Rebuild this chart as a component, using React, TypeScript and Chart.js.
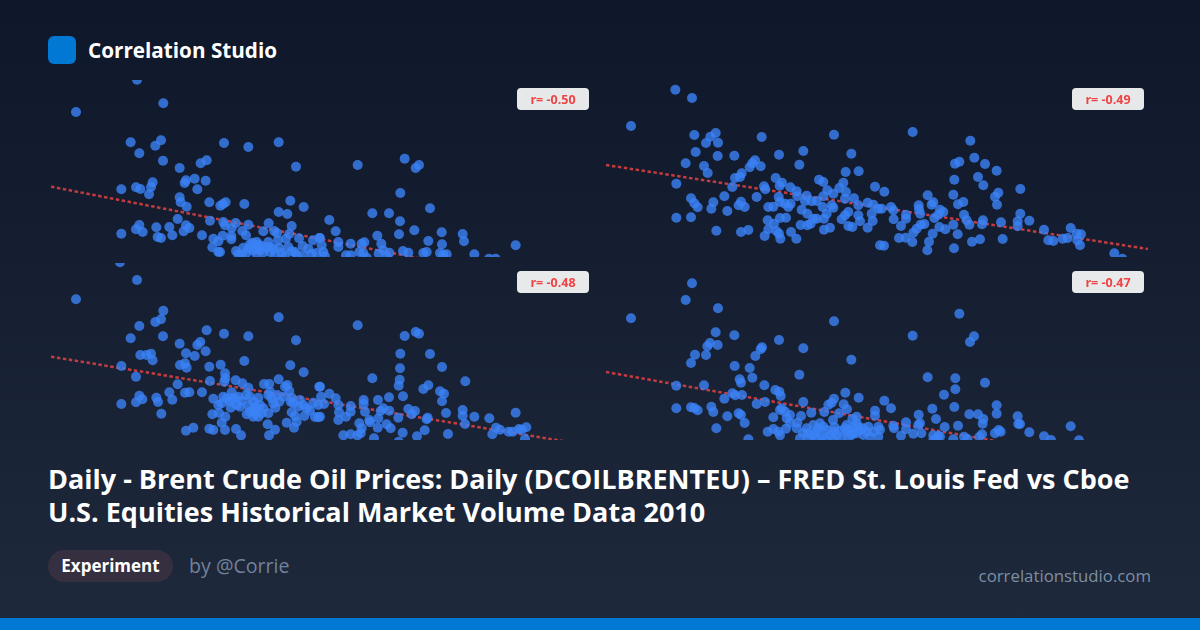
import React, { useEffect, useRef } from 'react';
import { Chart, registerables } from 'chart.js';

Chart.register(...registerables);

// values, no axis is shown so the units are arbitrary
const seriesA: number[][] = [
  [291,532],[370,461],[108,435],[272,344],[363,350],[346,334],[298,311],[552,342],[625,330],[716,344],[369,289],[500,290],[482,281],[419,267],[768,271],[438,230],[464,235],[434,222],[497,229],[338,224],[333,210],[288,209],[301,204],[244,203],[327,188],[472,203],[419,179],[422,164],[508,164],[557,164],[549,159],[541,154],[613,159],[751,169],[440,151],[791,150],[716,135],[742,129],[413,114],[510,109],[550,105],[587,102],[625,97],[686,101],[298,96],[288,83],[308,75],[349,89],[388,90],[438,95],[448,87],[431,77],[244,70],[397,65],[486,65],[353,60],[363,57],[555,95],[575,87],[755,93],[607,78],[618,65],[670,77],[703,78],[711,72],[548,64],[574,63],[574,53],[520,55],[535,47],[517,29],[540,15],[588,18],[714,50],[738,55],[748,70],[777,56],[819,50],[838,57],[788,33],[685,45],[718,27],[637,43],[655,37],[625,25],[640,20],[605,7],[690,15],[755,17],[790,5],[830,12],[705,5],[680,30],[660,20],[535,15],
  [620,12],[650,8],[670,14],[700,25],[725,12],[745,30],[765,15],[805,25],[815,10],[630,38],[650,25],[665,33],[690,30],[610,28],[595,8],[770,5],[735,3],[650,45],
  [953,276],[1094,295],[1137,276],[1127,267],[1081,192],[1170,146],[868,111],[997,131],[1047,131],[1080,107],[887,77],[1123,80],[1205,74],[1012,64],[1077,68],[1268,69],[840,57],[1165,48],[1272,47],[1427,35],[895,45],[932,40],[973,44],[965,40],[1024,40],[1206,38],[895,30],[845,35],[1030,20],[1048,13],[1089,18],[1105,13],[1160,15],[1150,12],[1200,12],[1210,7],[1220,8],[1303,8],[1347,-5],[1367,-5],[918,5],[932,5],[958,15],[970,12],[1016,10],[850,15],[855,2],[980,-2],[1040,0],
];
const seriesB: number[][] = [
  [226,502],[276,477],[93,393],[283,366],[347,372],[331,361],[318,342],[354,343],[485,360],[702,367],[287,315],[353,303],[403,304],[537,307],[610,318],[754,310],[257,281],[465,290],[457,281],[449,269],[482,272],[598,277],[312,273],[323,252],[425,251],[737,255],[776,257],[229,220],[405,237],[420,240],[397,210],[527,237],[546,223],[539,214],[492,212],[496,203],[571,209],[590,197],[657,232],[670,225],[730,223],[825,211],[718,207],[738,195],[682,200],[670,182],[700,190],[470,180],[373,182],[273,176],[283,161],[293,149],[340,164],[334,145],[382,138],[423,166],[416,155],[434,150],[536,180],[540,165],[505,150],[520,151],[555,160],[572,160],[565,150],[592,182],[620,184],[615,168],[635,167],[650,168],[735,175],[762,176],[775,155],[803,163],[820,157],[835,145],[695,155],[668,150],[605,142],[622,130],[700,148],[680,130],[745,135],[735,125],[775,125],[815,130],[650,115],[640,115],[672,115],[725,113],[780,107],[818,108],[503,110],[522,100],[540,117],[558,118],[505,83],[530,77],[537,70],[494,63],[541,55],[573,75],[589,55],[602,96],[622,95],[632,100],[672,82],[690,88],[745,93],[757,90],[803,88],[229,118],[273,119],[349,79],[423,75],[445,81],[840,35],
  [938,375],[1111,349],[1123,298],[1078,286],[1065,280],[1155,279],[1190,259],[1134,240],[1063,232],[1150,215],[853,196],[983,185],[1060,187],[1261,204],[1195,193],[1185,181],[1191,157],[1090,165],[1074,158],[1000,164],[995,157],[956,155],[957,143],[961,130],[873,150],[880,140],[881,113],[918,127],[918,115],[903,93],[845,145],[1020,142],[1030,135],[1015,127],[1003,117],[1092,127],[1100,110],[1108,97],[1060,97],[1149,110],[1146,98],[1203,104],[1261,130],[1288,109],[1253,107],[1253,92],[1332,82],[1412,87],[973,99],[962,97],[950,85],[940,73],[1018,90],[1036,83],[998,70],[1073,68],[897,57],[917,58],[937,45],[987,46],[982,20],[1062,26],[1116,46],[1140,53],[1208,54],[852,34],[1345,50],[1360,48],[1388,55],[1403,57],[1430,70],[1443,68],[1440,35],[1432,50],[1543,11],[1567,-5],
];
const seriesC: number[][] = [
  [240,533],[291,480],[108,422],[370,388],[363,362],[346,354],[298,342],[272,305],[552,319],[500,329],[625,311],[716,368],[768,299],[369,311],[419,289],[481,294],[472,285],[438,260],[464,252],[497,266],[301,255],[333,259],[320,255],[338,239],[613,237],[542,226],[508,220],[751,224],[420,225],[435,230],[440,217],[244,222],[288,190],[791,203],[555,200],[556,185],[553,175],[510,177],[413,167],[587,179],[607,170],[625,157],[672,168],[688,168],[716,182],[742,165],[735,160],[748,147],[838,160],[388,143],[435,142],[448,143],[486,143],[298,133],[307,122],[349,127],[354,114],[288,113],[244,108],[397,121],[520,124],[550,130],[575,143],[575,125],[572,97],[590,105],[605,117],[618,135],[640,115],[655,127],[685,135],[690,145],[712,135],[718,115],[706,97],[755,127],[780,120],[790,105],[820,112],[835,105],[752,115],[625,103],[650,95],[640,70],[620,77],[665,80],[685,80],[755,83],[765,72],[793,72],[825,69],[835,68],[535,105],[537,81],[517,77],[556,70],[364,79],[545,52],[555,30],[520,30],[508,34],[460,37],[438,28],[588,33],[603,14],[687,14],[705,31],[683,47],[740,52],[762,37],[770,55],
  [600,100],[630,130],[645,100],[660,105],[670,95],[630,85],[645,80],[655,70],[640,85],[700,110],[695,125],[730,130],[760,110],[775,100],[800,95],[810,88],[560,125],[570,115],[585,125],[595,130],[545,110],
  [953,344],[1094,312],[1127,324],[1137,319],[1081,259],[1170,258],[1080,215],[1206,219],[997,185],[1079,181],[1076,163],[1276,176],[1165,164],[1150,153],[1200,146],[1212,139],[1206,116],[1089,131],[1047,128],[1014,120],[971,120],[971,108],[868,139],[887,125],[840,160],[843,130],[852,108],[895,105],[932,102],[932,85],[975,85],[897,83],[918,70],[895,60],[840,70],[988,60],[1030,95],[1022,87],[1048,88],[1105,93],[1125,87],[1115,77],[1075,67],[1163,67],[1160,62],[1268,90],[1268,73],[1218,81],[1303,70],[1348,65],[1427,82],[1275,48],[1015,65],[990,53],[958,50],[965,35],[1040,47],[1052,35],[1013,37],[1088,22],[1131,11],[1154,29],[1224,18],[910,14],[932,17],[952,14],[962,20],[1002,5],[1076,-5],[1368,37],[1380,31],[1357,17],[1406,25],[1418,25],[1445,31],[1459,38],[1437,33],[1455,3],
];
const seriesD: number[][] = [
  [276,470],[93,365],[257,420],[354,395],[702,356],[347,323],[403,314],[537,300],[610,275],[330,291],[322,281],[353,285],[486,278],[482,272],[466,252],[285,256],[318,255],[273,231],[754,241],[404,222],[449,216],[457,187],[598,196],[419,182],[423,172],[493,164],[229,163],[312,164],[526,150],[538,145],[542,132],[397,140],[406,134],[426,135],[373,124],[736,142],[776,127],[702,124],[695,112],[685,106],[731,107],[610,114],[495,114],[470,108],[229,95],[273,98],[283,96],[293,89],[334,100],[340,84],[416,80],[423,75],[382,71],[434,51],[349,35],[545,95],[540,90],[555,85],[520,68],[570,75],[560,65],[603,72],[634,82],[673,84],[717,80],[741,92],[825,88],[825,73],[770,70],[757,63],[699,60],[592,52],[570,52],[503,25],[520,33],[535,25],[558,34],[540,14],[445,2],[590,35],[620,35],[640,45],[660,50],[670,40],[703,39],[735,35],[760,40],[775,40],[805,40],[835,40],[640,15],[690,15],[600,5],[745,10],[770,20],[810,10],[665,10],[725,2],[835,10],
  [625,20],[650,25],[655,35],[680,30],[700,25],[720,28],[740,25],[750,30],[760,20],[780,30],[790,15],[755,15],[675,5],[700,5],[650,5],[625,5],[610,20],[710,15],[790,35],[800,25],[820,25],[740,45],[770,50],
  [1078,379],[938,313],[1122,311],[1110,294],[983,188],[1066,185],[1155,172],[1066,152],[1032,136],[853,118],[873,95],[1190,104],[1063,99],[997,94],[956,76],[1008,63],[1108,77],[1134,77],[1190,79],[1253,71],[1150,63],[1148,49],[1074,43],[918,53],[960,50],[955,45],[880,43],[882,35],[918,32],[840,31],[1255,48],[1260,48],[1412,41],[1034,39],[1196,30],[1202,25],[1185,20],[1288,23],[1146,17],[1138,9],[964,20],[940,19],[903,13],[1000,14],[1015,13],[1060,2],[1092,10],[1102,3],[1332,11],[1353,0],[1437,-1],[1000,0],[1010,5],[1020,10],
];

const trendA = [211, -105];
const trendB = [276, 24];
const trendC = [250, -18];
const trendD = [204, -84];

const labelA = 'r= -0.50';
const labelB = 'r= -0.49';
const labelC = 'r= -0.48';
const labelD = 'r= -0.47';

const FONT = '"Open Sans", sans-serif';

function Panel(props: { left: number; top: number; points: number[][]; trend: number[]; xMin: number; label: string }) {
  const canvas = useRef<HTMLCanvasElement>(null);
  const { left, top, points, trend, xMin, label } = props;

  useEffect(() => {
    const chart = new Chart(canvas.current!, {
      type: 'scatter',
      data: {
        datasets: [
          {
            data: points.map(p => ({ x: p[0], y: p[1] })),
            backgroundColor: 'rgba(59, 130, 246, 0.8)',
            borderWidth: 0,
            pointRadius: 5,
          },
          {
            data: [{ x: xMin, y: trend[0] }, { x: xMin + 1626, y: trend[1] }],
            showLine: true,
            borderColor: 'rgba(239, 68, 68, 0.8)',
            borderWidth: 2.5,
            borderDash: [3.5, 2.5],
            pointRadius: 0,
          },
        ],
      },
      options: {
        responsive: false,
        animation: false,
        layout: { padding: 0, autoPadding: false },
        plugins: { legend: { display: false }, tooltip: { enabled: false } },
        scales: {
          x: { type: 'linear', display: false, min: xMin, max: xMin + 1632 },
          y: { type: 'linear', display: false, min: 0, max: 531 },
        },
      },
    });
    return () => {
      chart.destroy();
    };
  }, []);

  return (
    <>
      <canvas ref={canvas} width={544} height={177} style={{ position: 'absolute', left, top, width: 544, height: 177 }}></canvas>
      <div style={{
        position: 'absolute', left: left + 466, top: top + 8, width: 72, height: 22, borderRadius: 4,
        background: 'rgba(255, 255, 255, 0.9)', color: '#ef4444', font: `700 12.5px ${FONT}`,
        display: 'flex', alignItems: 'center', justifyContent: 'center',
      }}>{label}</div>
    </>
  );
}

export default function App() {
  useEffect(() => {
    document.body.style.margin = '0';
  }, []);

  return (
    <div style={{
      position: 'fixed', left: 0, top: 0, width: 1200, height: 630, overflow: 'hidden',
      background: 'linear-gradient(180deg, #0f172a 0%, #1e293b 100%)', fontFamily: FONT,
    }}>
      <div style={{ position: 'absolute', left: 48, top: 36, width: 28, height: 28, borderRadius: 6, background: '#0078d4' }}></div>
      <div style={{ position: 'absolute', left: 88, top: 36, height: 28, lineHeight: '28px', fontSize: 20.7, fontWeight: 700, color: '#fff' }}>Correlation Studio</div>

      <Panel left={51} top={80} points={seriesA} trend={trendA} xMin={33} label={labelA} />
      <Panel left={606} top={80} points={seriesB} trend={trendB} xMin={18} label={labelB} />
      <Panel left={51} top={263} points={seriesC} trend={trendC} xMin={33} label={labelC} />
      <Panel left={606} top={263} points={seriesD} trend={trendD} xMin={18} label={labelD} />

      <div style={{ position: 'absolute', left: 48, top: 462, width: 1100, fontSize: 27, lineHeight: '33px', fontWeight: 700, color: '#fff' }}>
        Daily - Brent Crude Oil Prices: Daily (DCOILBRENTEU) – FRED St. Louis Fed vs Cboe U.S. Equities Historical Market Volume Data 2010
      </div>

      <div style={{
        position: 'absolute', left: 48, top: 550, width: 125, height: 32, borderRadius: 16, background: '#352f3f',
        color: '#fff', fontSize: 17, fontWeight: 700, lineHeight: '32px', textAlign: 'center',
      }}>Experiment</div>
      <div style={{ position: 'absolute', left: 189, top: 550, height: 32, lineHeight: '32px', fontSize: 19.6, color: '#71819a' }}>by @Corrie</div>
      <div style={{ position: 'absolute', right: 49, top: 560, height: 32, lineHeight: '32px', fontSize: 16.8, color: '#7f8ea3' }}>correlationstudio.com</div>

      <div style={{ position: 'absolute', left: 0, top: 618, width: 1200, height: 12, background: '#0078d4' }}></div>
    </div>
  );
}
